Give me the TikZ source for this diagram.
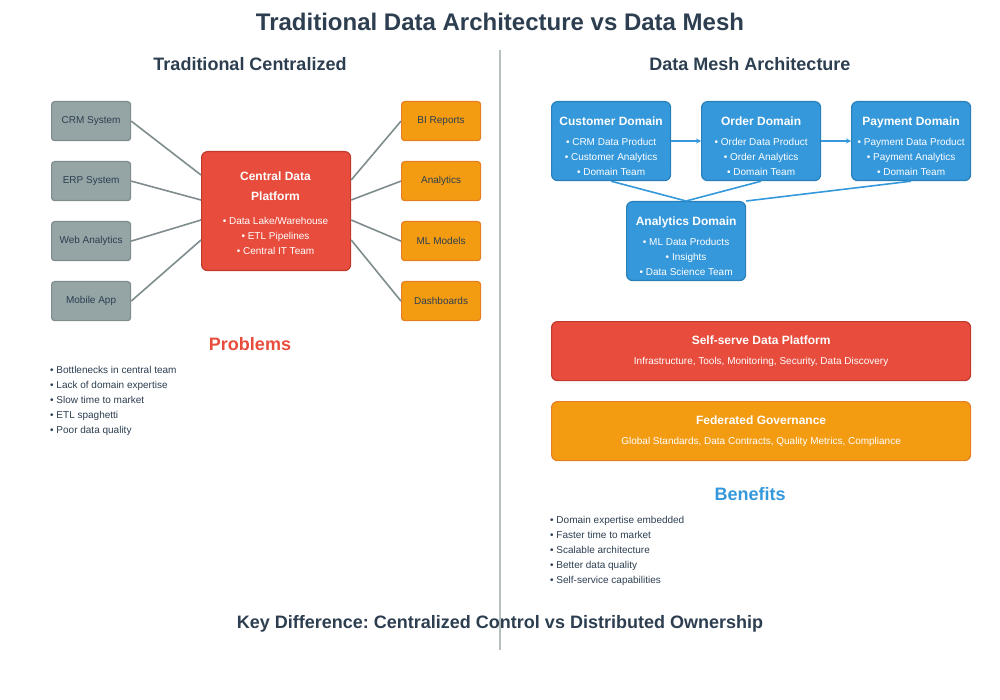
\documentclass[tikz,border=0pt]{standalone}
\usepackage{fontspec}
\setmainfont{Liberation Sans}
\frenchspacing
\usetikzlibrary{positioning,arrows.meta,calc}
\definecolor{ink}{HTML}{2C3E50}
\definecolor{srcgray}{HTML}{95A5A6}
\definecolor{srcedge}{HTML}{7F8C8D}
\definecolor{platred}{HTML}{E74C3C}
\definecolor{platedge}{HTML}{C0392B}
\definecolor{outorange}{HTML}{F39C12}
\definecolor{outedge}{HTML}{E67E22}
\definecolor{meshblue}{HTML}{3498DB}
\definecolor{meshedge}{HTML}{2980B9}
\tikzset{
  box/.style={draw, line width=1.2pt, rounded corners=3pt, anchor=north west, inner sep=0pt, align=center},
  srcbox/.style={box, fill=srcgray, draw=srcedge, minimum width=79pt, minimum height=39pt, text=ink, font=\fontsize{10}{12}\selectfont},
  outbox/.style={box, fill=outorange, draw=outedge, minimum width=79pt, minimum height=39pt, text=ink, font=\fontsize{10}{12}\selectfont},
  domainbox/.style={box, fill=meshblue, draw=meshedge, minimum width=119pt, minimum height=79pt, rounded corners=6pt, text=white, font=\fontsize{10}{15}\selectfont},
  link/.style={draw=srcedge, line width=1.6pt},
  meshlink/.style={draw=meshblue, line width=1.6pt},
  heading/.style={font=\bfseries\fontsize{18}{20}\selectfont, text=ink},
  bullets/.style={anchor=north west, align=left, text=ink, font=\fontsize{10}{15}\selectfont, inner sep=0pt},
}
\newcommand{\dtitle}[1]{\rule{0pt}{19pt}{\bfseries\fontsize{12}{14}\selectfont #1}\\[5pt]}
\begin{document}
\begin{tikzpicture}[x=1pt, y=-1pt]
\useasboundingbox (0,0) rectangle (1000,700);

% Titles
\node[font=\bfseries\fontsize{24}{28}\selectfont, text=ink] (title) at (500,22) {Traditional Data Architecture vs Data Mesh};
\draw[draw=srcgray!70, line width=2.2pt] (500,50) -- (500,650);
\node[heading] (lefthead) at (250,64) {Traditional Centralized};
\node[heading] (righthead) at (750,64) {Data Mesh Architecture};

% Left: sources, platform, outputs
\node[srcbox] (crm) at (51,101) {CRM System};
\node[srcbox] (erp) at (51,161) {ERP System};
\node[srcbox] (web) at (51,221) {Web Analytics};
\node[srcbox] (mob) at (51,281) {Mobile App};
\node[box, fill=platred, draw=platedge, minimum width=149pt, minimum height=119pt, rounded corners=6pt, text=white] (central) at (201,151) {};
\node[text=white, align=center, font=\bfseries\fontsize{12}{20}\selectfont] (ctitle) at (275.5,186) {Central Data\\Platform};
\node[text=white, align=center, font=\fontsize{10}{15}\selectfont] (clist) at (275.5,236) {• Data Lake/Warehouse\\• ETL Pipelines\\• Central IT Team};
\node[outbox] (bi) at (401,101) {BI Reports};
\node[outbox] (ana) at (401,161) {Analytics};
\node[outbox] (ml) at (401,221) {ML Models};
\node[outbox] (dash) at (401,281) {Dashboards};
\draw[link] (crm.east) -- ($(central.north west)+(0,24)$);
\draw[link] (erp.east) -- ($(central.north west)+(0,49)$);
\draw[link] (web.east) -- ($(central.north west)+(0,69)$);
\draw[link] (mob.east) -- ($(central.north west)+(0,89)$);
\draw[link] ($(central.north east)+(0,29)$) -- (bi.west);
\draw[link] ($(central.north east)+(0,49)$) -- (ana.west);
\draw[link] ($(central.north east)+(0,69)$) -- (ml.west);
\draw[link] ($(central.north east)+(0,89)$) -- (dash.west);

\node[font=\bfseries\fontsize{18}{20}\selectfont, text=platred] (problems) at (250,344) {Problems};
\node[bullets] (plist) at (50,366) {• Bottlenecks in central team\\• Lack of domain expertise\\• Slow time to market\\• ETL spaghetti\\• Poor data quality};

% Right: domains
\node[domainbox] (cust) at (551,101) {\dtitle{Customer Domain}• CRM Data Product\\• Customer Analytics\\• Domain Team};
\node[domainbox] (order) at (701,101) {\dtitle{Order Domain}• Order Data Product\\• Order Analytics\\• Domain Team};
\node[domainbox] (pay) at (851,101) {\dtitle{Payment Domain}• Payment Data Product\\• Payment Analytics\\• Domain Team};
\node[domainbox] (adom) at (626,201) {\dtitle{Analytics Domain}• ML Data Products\\• Insights\\• Data Science Team};
\draw[meshlink, -{Stealth[length=5pt,width=5pt]}] ($(cust.north east)+(0,40)$) -- ($(order.north west)+(0,40)$);
\draw[meshlink, -{Stealth[length=5pt,width=5pt]}] ($(order.north east)+(0,40)$) -- ($(pay.north west)+(0,40)$);
\draw[meshlink] (cust.south) -- (adom.north);
\draw[meshlink] (order.south) -- (adom.north);
\draw[meshlink] (pay.south) -- (adom.north east);

% Platform layers
\node[box, fill=platred, draw=platedge, minimum width=419pt, minimum height=59pt, rounded corners=6pt, text=white, font=\fontsize{10}{20}\selectfont] (selfserve) at (551,321) {{\bfseries\fontsize{12}{14}\selectfont Self-serve Data Platform}\\Infrastructure, Tools, Monitoring, Security, Data Discovery};
\node[box, fill=outorange, draw=outedge, minimum width=419pt, minimum height=59pt, rounded corners=6pt, text=white, font=\fontsize{10}{20}\selectfont] (gov) at (551,401) {{\bfseries\fontsize{12}{14}\selectfont Federated Governance}\\Global Standards, Data Contracts, Quality Metrics, Compliance};

\node[font=\bfseries\fontsize{18}{20}\selectfont, text=meshblue] (benefits) at (750,494) {Benefits};
\node[bullets] (blist) at (550,516) {• Domain expertise embedded\\• Faster time to market\\• Scalable architecture\\• Better data quality\\• Self-service capabilities};

\node[heading] (keydiff) at (500,624) {Key Difference: Centralized Control vs Distributed Ownership};
\end{tikzpicture}
\end{document}
